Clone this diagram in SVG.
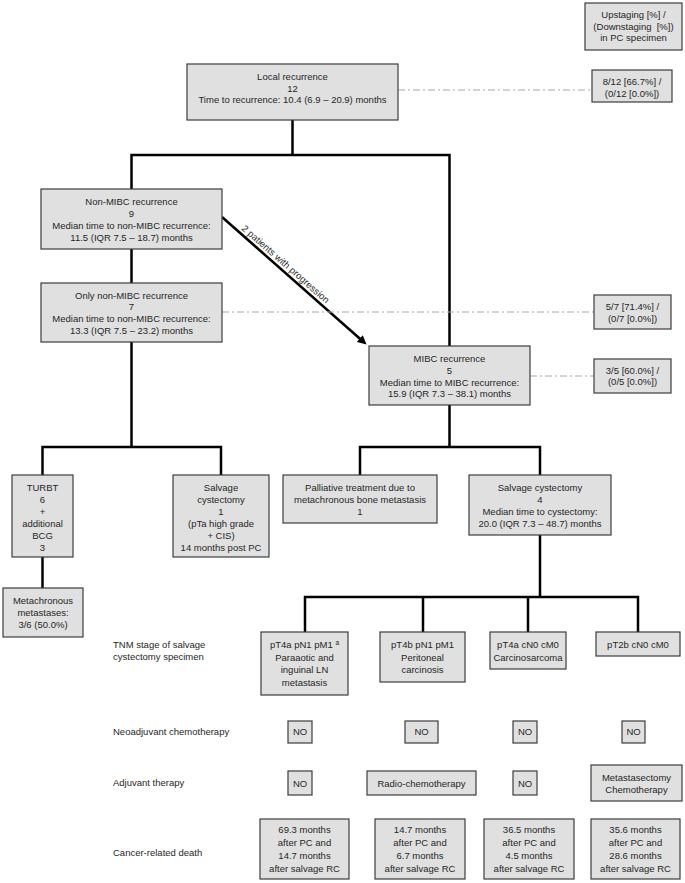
<svg xmlns="http://www.w3.org/2000/svg" width="685" height="883" viewBox="0 0 685 883">
<style>
.box{fill:#e0e0e0;stroke:#3c3c3c;stroke-width:1.2}
.t{font-family:"Liberation Sans",Arial,sans-serif;font-size:9.5px;fill:#262626;text-anchor:middle}
.l{font-family:"Liberation Sans",Arial,sans-serif;font-size:9.5px;fill:#262626;text-anchor:start}
.ln{stroke:#000;stroke-width:2.5;fill:none;stroke-linecap:square}
.dd{stroke:#a8a8a8;stroke-width:1;fill:none;stroke-dasharray:7 3 2 3}
</style>
<defs>
<marker id="ah" viewBox="0 0 10 10" refX="4" refY="5" markerWidth="10" markerHeight="9" markerUnits="userSpaceOnUse" orient="auto"><path d="M0,0 L10,5 L0,10 z" fill="#000"/></marker>
</defs>
<rect width="685" height="883" fill="#fff"/>
<g id="connectors">
<path class="ln" d="M292.5,120 V155 M131.5,155 H449.5 M131.5,155 V189 M449.5,155 V346 M131.5,249 V283 M131.5,342 V447 M42.5,447 H221 M42.5,447 V475 M221,447 V475 M42.5,557 V588 M449.5,405 V447 M360,447 H540 M360,447 V475 M540,447 V475 M540,535 V597 M305,597 H638 M305,597 V632 M423,597 V632 M528,597 V632 M638,597 V632"/>
<path d="M222,217 L362.5,341" stroke="#000" stroke-width="2.5" fill="none" marker-end="url(#ah)"/>
<text class="t" transform="translate(283.5,266.5) rotate(41.3)">2 patients with progression</text>
<path class="dd" d="M398,90 H592 M222,312 H594 M530,376 H594"/>
</g>
<g id="upstaging"><rect class="box" x="585" y="3" width="97" height="47"/>
<text class="t" x="633.5" y="18.4">Upstaging [%] /</text>
<text class="t" x="633.5" y="29.9" xml:space="preserve">(Downstaging  [%])</text>
<text class="t" x="633.5" y="41.4">in PC specimen</text></g>
<g id="local"><rect class="box" x="187" y="64" width="211" height="56"/>
<text class="t" x="292.5" y="80">Local recurrence</text>
<text class="t" x="292.5" y="91.7">12</text>
<text class="t" x="292.5" y="103.4">Time to recurrence: 10.4 (6.9 – 20.9) months</text></g>
<g id="r812"><rect class="box" x="592" y="70" width="80" height="32"/>
<text class="t" x="632" y="85">8/12 [66.7%] /</text>
<text class="t" x="632" y="96.7">(0/12 [0.0%])</text></g>
<g id="nonmibc"><rect class="box" x="41" y="189" width="181" height="60"/>
<text class="t" x="131.5" y="205.2">Non-MIBC recurrence</text>
<text class="t" x="131.5" y="217">9</text>
<text class="t" x="131.5" y="228.8">Median time to non-MIBC recurrence:</text>
<text class="t" x="131.5" y="240.6">11.5 (IQR 7.5 – 18.7) months</text></g>
<g id="onlynonmibc"><rect class="box" x="41" y="283" width="181" height="59"/>
<text class="t" x="131.5" y="298.5">Only non-MIBC recurrence</text>
<text class="t" x="131.5" y="310.3">7</text>
<text class="t" x="131.5" y="322.1">Median time to non-MIBC recurrence:</text>
<text class="t" x="131.5" y="333.9">13.3 (IQR 7.5 – 23.2) months</text></g>
<g id="r57"><rect class="box" x="594" y="295" width="77" height="34"/>
<text class="t" x="632.5" y="310">5/7 [71.4%] /</text>
<text class="t" x="632.5" y="321.7">(0/7 [0.0%])</text></g>
<g id="mibc"><rect class="box" x="369" y="346" width="161" height="59"/>
<text class="t" x="449.5" y="362">MIBC recurrence</text>
<text class="t" x="449.5" y="373.8">5</text>
<text class="t" x="449.5" y="385.6">Median time to MIBC recurrence:</text>
<text class="t" x="449.5" y="397.4">15.9 (IQR 7.3 – 38.1) months</text></g>
<g id="r35"><rect class="box" x="594" y="359" width="77" height="34"/>
<text class="t" x="632.5" y="373.6">3/5 [60.0%] /</text>
<text class="t" x="632.5" y="385.2">(0/5 [0.0%])</text></g>
<g id="turbt"><rect class="box" x="12" y="475" width="61" height="82"/>
<text class="t" x="42.5" y="490.5">TURBT</text>
<text class="t" x="42.5" y="502.5">6</text>
<text class="t" x="42.5" y="514.5">+</text>
<text class="t" x="42.5" y="526.5">additional</text>
<text class="t" x="42.5" y="538.5">BCG</text>
<text class="t" x="42.5" y="550.5">3</text></g>
<g id="salvage1"><rect class="box" x="173" y="475" width="96" height="82"/>
<text class="t" x="221" y="490.5">Salvage</text>
<text class="t" x="221" y="502.5">cystectomy</text>
<text class="t" x="221" y="514.5">1</text>
<text class="t" x="221" y="526.5">(pTa high grade</text>
<text class="t" x="221" y="538.5">+ CIS)</text>
<text class="t" x="221" y="550.5">14 months post PC</text></g>
<g id="metachronous"><rect class="box" x="3" y="588" width="80" height="49"/>
<text class="t" x="43" y="604.4">Metachronous</text>
<text class="t" x="43" y="616.4">metastases:</text>
<text class="t" x="43" y="628.4">3/6 (50.0%)</text></g>
<g id="palliative"><rect class="box" x="283" y="475" width="154" height="48"/>
<text class="t" x="360" y="491.4">Palliative treatment due to</text>
<text class="t" x="360" y="503.4">metachronous bone metastasis</text>
<text class="t" x="360" y="515.4">1</text></g>
<g id="salvage4"><rect class="box" x="469" y="475" width="142" height="60"/>
<text class="t" x="540" y="491.4">Salvage cystectomy</text>
<text class="t" x="540" y="503.4">4</text>
<text class="t" x="540" y="515.4">Median time to cystectomy:</text>
<text class="t" x="540" y="527.4">20.0 (IQR 7.3 – 48.7) months</text></g>
<g id="labels">
<text class="l" x="113" y="648">TNM stage of salvage</text>
<text class="l" x="113" y="660">cystectomy specimen</text>
<text class="l" x="113" y="735">Neoadjuvant chemotherapy</text>
<text class="l" x="113" y="786">Adjuvant therapy</text>
<text class="l" x="113" y="856">Cancer-related death</text>
</g>
<g id="tnm1"><rect class="box" x="261" y="632" width="87" height="63"/>
<text class="t" x="304.5" y="648.4">pT4a pN1 pM1 <tspan font-size="6.5" baseline-shift="super">a</tspan></text>
<text class="t" x="304.5" y="660.9">Paraaotic and</text>
<text class="t" x="304.5" y="673.4">inguinal LN</text>
<text class="t" x="304.5" y="685.9">metastasis</text></g>
<g id="tnm2"><rect class="box" x="380" y="632" width="85" height="50"/>
<text class="t" x="422.5" y="648.4">pT4b pN1 pM1</text>
<text class="t" x="422.5" y="660.9">Peritoneal</text>
<text class="t" x="422.5" y="673.4">carcinosis</text></g>
<g id="tnm3"><rect class="box" x="490" y="632" width="76" height="37"/>
<text class="t" x="528" y="648.4">pT4a cN0 cM0</text>
<text class="t" x="528" y="660.9">Carcinosarcoma</text></g>
<g id="tnm4"><rect class="box" x="596" y="632" width="84" height="24"/>
<text class="t" x="638" y="648.4">pT2b cN0 cM0</text></g>
<g id="neo1"><rect class="box" x="288" y="721" width="24" height="22"/><text class="t" x="300" y="735.4">NO</text></g>
<g id="neo2"><rect class="box" x="405" y="721" width="33" height="22"/><text class="t" x="421.5" y="735.4">NO</text></g>
<g id="neo3"><rect class="box" x="513" y="721" width="24" height="22"/><text class="t" x="525" y="735.4">NO</text></g>
<g id="neo4"><rect class="box" x="622" y="721" width="23" height="22"/><text class="t" x="633.5" y="735.4">NO</text></g>
<g id="adj1"><rect class="box" x="288" y="771" width="24" height="24"/><text class="t" x="300" y="786.5">NO</text></g>
<g id="adj2"><rect class="box" x="367" y="771" width="109" height="24"/><text class="t" x="421.5" y="786.5">Radio-chemotherapy</text></g>
<g id="adj3"><rect class="box" x="513" y="771" width="24" height="24"/><text class="t" x="525" y="786.5">NO</text></g>
<g id="adj4"><rect class="box" x="591" y="765" width="91" height="36"/>
<text class="t" x="636.5" y="780.5">Metastasectomy</text>
<text class="t" x="636.5" y="792.5">Chemotherapy</text></g>
<g id="death1"><rect class="box" x="260" y="819" width="89" height="60"/>
<text class="t" x="304.5" y="833">69.3 months</text><text class="t" x="304.5" y="846">after PC and</text><text class="t" x="304.5" y="859">14.7 months</text><text class="t" x="304.5" y="872">after salvage RC</text></g>
<g id="death2"><rect class="box" x="375" y="819" width="90" height="60"/>
<text class="t" x="420" y="833">14.7 months</text><text class="t" x="420" y="846">after PC and</text><text class="t" x="420" y="859">6.7 months</text><text class="t" x="420" y="872">after salvage RC</text></g>
<g id="death3"><rect class="box" x="484" y="819" width="90" height="60"/>
<text class="t" x="529" y="833">36.5 months</text><text class="t" x="529" y="846">after PC and</text><text class="t" x="529" y="859">4.5 months</text><text class="t" x="529" y="872">after salvage RC</text></g>
<g id="death4"><rect class="box" x="591" y="819" width="89" height="60"/>
<text class="t" x="635.5" y="833">35.6 months</text><text class="t" x="635.5" y="846">after PC and</text><text class="t" x="635.5" y="859">28.6 months</text><text class="t" x="635.5" y="872">after salvage RC</text></g>
</svg>
